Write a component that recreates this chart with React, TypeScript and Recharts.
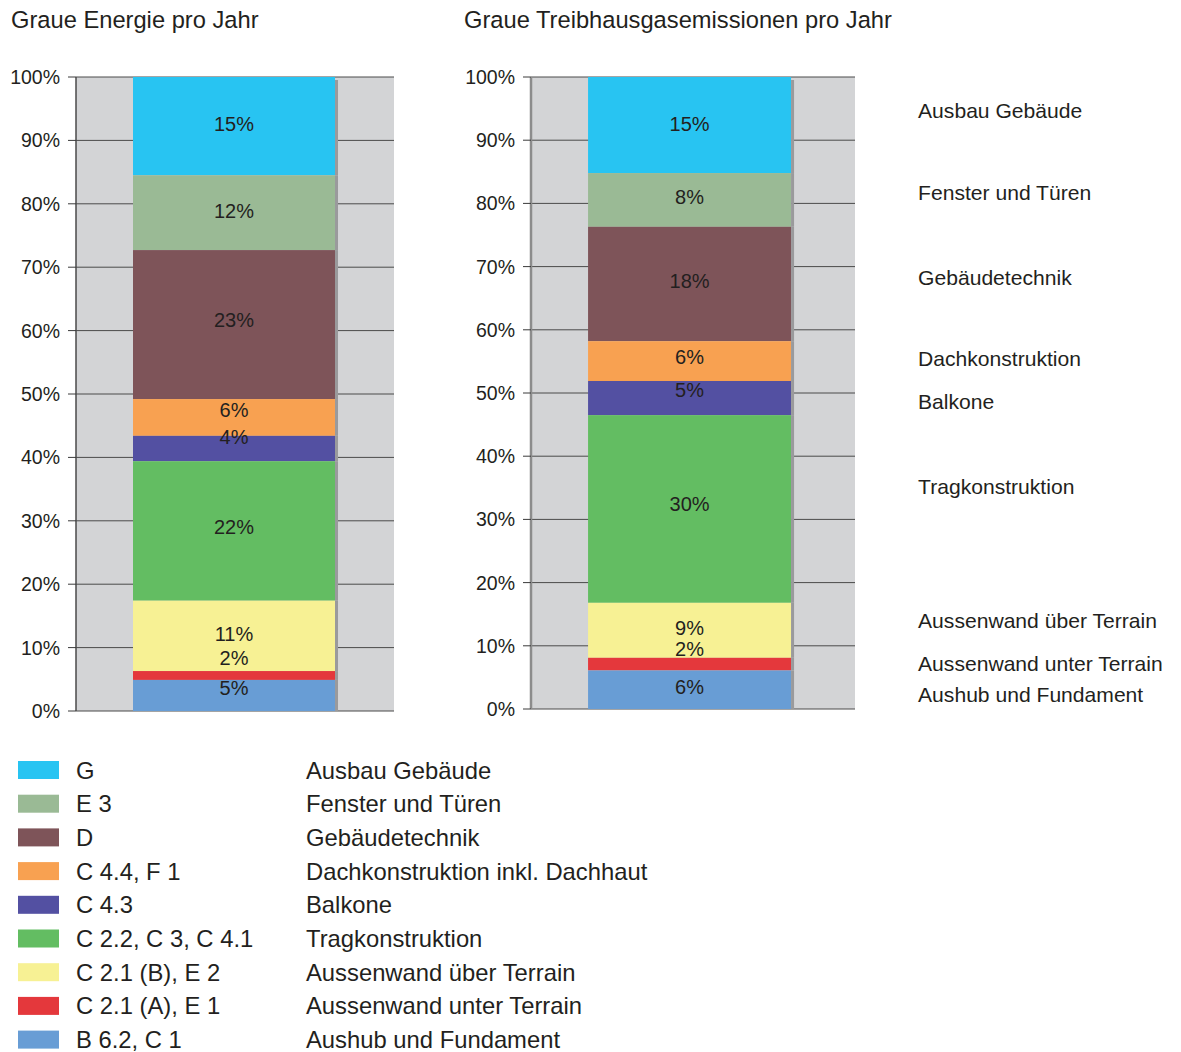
import React from 'react';
import { BarChart, Bar, XAxis, YAxis, CartesianGrid, LabelList } from 'recharts';

// Series listed top of stack -> bottom of stack
const seriesKeys = ['ausbau', 'fenster', 'technik', 'dach', 'balkone', 'trag', 'ueber', 'unter', 'aushub'];
const legendNames = [
  'Ausbau Gebäude',
  'Fenster und Türen',
  'Gebäudetechnik',
  'Dachkonstruktion inkl. Dachhaut',
  'Balkone',
  'Tragkonstruktion',
  'Aussenwand über Terrain',
  'Aussenwand unter Terrain',
  'Aushub und Fundament',
];
const sideNames = [
  'Ausbau Gebäude',
  'Fenster und Türen',
  'Gebäudetechnik',
  'Dachkonstruktion',
  'Balkone',
  'Tragkonstruktion',
  'Aussenwand über Terrain',
  'Aussenwand unter Terrain',
  'Aushub und Fundament',
];
const legendCodes = ['G', 'E 3', 'D', 'C 4.4, F 1', 'C 4.3', 'C 2.2, C 3, C 4.1', 'C 2.1 (B), E 2', 'C 2.1 (A), E 1', 'B 6.2, C 1'];
const seriesColors = ['#28c4f2', '#9aba95', '#7e5459', '#f8a151', '#5350a2', '#63bd62', '#f7f194', '#e4383c', '#689dd5'];

const energyValues = [15.5, 11.8, 23.5, 5.8, 4.0, 22.0, 11.1, 1.4, 4.9];
const energyLabels = ['15%', '12%', '23%', '6%', '4%', '22%', '11%', '2%', '5%'];
const ghgValues = [15.2, 8.5, 18.1, 6.3, 5.4, 29.7, 8.7, 2.0, 6.1];
const ghgLabels = ['15%', '8%', '18%', '6%', '5%', '30%', '9%', '2%', '6%'];

const yTicks = [0, 10, 20, 30, 40, 50, 60, 70, 80, 90, 100];

const titles = ['Graue Energie pro Jahr', 'Graue Treibhausgasemissionen pro Jahr'];

// label placement tweaks (px) relative to segment centre
const energyLabelShift = [-2, -2, -5, -7, -12, -4, -2, -17, -7];
const ghgLabelShift = [-1, -3, -3, -4, -8, -5, -2, -15, -3];
const sideLabelShift = [-15, -7, -6, -3, 3, -22, -10, -1, 5];

const FONT = '"Liberation Sans", Arial, Helvetica, sans-serif';
const TEXT = '#231f20';
const PLOT_BG = '#d3d4d6';
const SHADOW = '#9a9a9c';

function buildRow(values: number[]) {
  const row: Record<string, any> = { name: 'x' };
  seriesKeys.forEach((k, i) => {
    row[k] = values[i];
  });
  return [row];
}

function makeShape(isTop: boolean) {
  return (props: any) => {
    const x = Number(props.x);
    const y = Number(props.y);
    const w = Number(props.width);
    const h = Number(props.height);
    const sy = isTop ? y + 3 : y;
    const sh = isTop ? h - 3 : h;
    return (
      <g>
        <rect x={x} y={y} width={w} height={h} fill={props.fill} />
        <rect x={x + w} y={sy} width={3} height={Math.max(0, sh)} fill={SHADOW} />
      </g>
    );
  };
}

interface StackProps {
  values: number[];
  labels: string[];
  shifts: number[];
  width: number;
  height: number;
  margin: { top: number; right: number; bottom: number; left: number };
  gap: string;
  padRight: number;
  axisColor: string;
  axisWidth: number;
  side?: boolean;
}

function StackChart(p: StackProps) {
  const data = buildRow(p.values);
  return (
    <BarChart
      width={p.width}
      height={p.height}
      data={data}
      margin={p.margin}
      barCategoryGap={p.gap}
      reverseStackOrder
    >
      <CartesianGrid vertical={false} fill={PLOT_BG} fillOpacity={1} stroke="#4a4a4a" strokeWidth={1} />
      <XAxis dataKey="name" hide padding={{ left: 0, right: p.padRight }} />
      <YAxis
        type="number"
        domain={[0, 100]}
        ticks={yTicks}
        interval={0}
        width={76}
        tickSize={8}
        tickMargin={8}
        tickFormatter={(v: number) => `${v}%`}
        axisLine={{ stroke: p.axisColor, strokeWidth: p.axisWidth }}
        tickLine={{ stroke: '#3a3a3a' }}
        tick={{ fill: TEXT, fontSize: 19.5, fontFamily: FONT }}
      />
      {seriesKeys.map((k, i) => (
        <Bar
          key={k}
          dataKey={k}
          stackId="s"
          fill={seriesColors[i]}
          isAnimationActive={false}
          shape={makeShape(i === 0)}
        >
          <LabelList
            dataKey={k}
            content={(lp: any) => {
              const x = Number(lp.x);
              const y = Number(lp.y);
              const w = Number(lp.width);
              const h = Number(lp.height);
              return (
                <text
                  x={x + w / 2}
                  y={y + h / 2 + p.shifts[i]}
                  textAnchor="middle"
                  dominantBaseline="central"
                  fill={TEXT}
                  fontSize={20}
                  fontFamily={FONT}
                >
                  {p.labels[i]}
                </text>
              );
            }}
          />
          {p.side ? (
            <LabelList
              dataKey={k}
              content={(lp: any) => {
                const x = Number(lp.x);
                const y = Number(lp.y);
                const w = Number(lp.width);
                const h = Number(lp.height);
                return (
                  <text
                    x={x + w + 127}
                    y={y + h / 2 + sideLabelShift[i]}
                    textAnchor="start"
                    dominantBaseline="central"
                    fill={TEXT}
                    fontSize={21.1}
                    fontFamily={FONT}
                  >
                    {sideNames[i]}
                  </text>
                );
              }}
            />
          ) : null}
        </Bar>
      ))}
    </BarChart>
  );
}

export default function App() {
  return (
    <div style={{ position: 'absolute', left: 0, top: 0, width: 1181, height: 1052, background: '#fff', overflow: 'hidden' }}>
      <svg width={1181} height={1052} style={{ position: 'absolute', left: 0, top: 0 }}>
        <text x={11} y={28} fill={TEXT} fontSize={23.7} fontFamily={FONT}>
          {titles[0]}
        </text>
        <text x={464} y={28} fill={TEXT} fontSize={23.7} fontFamily={FONT}>
          {titles[1]}
        </text>
        {seriesKeys.map((k, i) => {
          const cy = 770 + 33.7 * i;
          return (
            <g key={k}>
              <rect x={18} y={cy - 9} width={41} height={18} fill={seriesColors[i]} />
              <text x={76} y={cy} dominantBaseline="central" fill={TEXT} fontSize={23.8} fontFamily={FONT}>
                {legendCodes[i]}
              </text>
              <text x={306} y={cy} dominantBaseline="central" fill={TEXT} fontSize={23.8} fontFamily={FONT}>
                {legendNames[i]}
              </text>
            </g>
          );
        })}
      </svg>
      <div style={{ position: 'absolute', left: 0, top: 0 }}>
        <StackChart
          values={energyValues}
          labels={energyLabels}
          shifts={energyLabelShift}
          width={400}
          height={730}
          margin={{ top: 77, right: 6, bottom: 19, left: 0 }}
          gap="18.04%"
          padRight={2}
          axisColor="#4a4a4a"
          axisWidth={1.5}
        />
      </div>
      <div style={{ position: 'absolute', left: 455, top: 0 }}>
        <StackChart
          values={ghgValues}
          labels={ghgLabels}
          shifts={ghgLabelShift}
          width={740}
          height={730}
          margin={{ top: 77, right: 340, bottom: 21, left: 0 }}
          gap="18%"
          padRight={7}
          axisColor="#8c8c8c"
          axisWidth={2.5}
          side
        />
      </div>
    </div>
  );
}
